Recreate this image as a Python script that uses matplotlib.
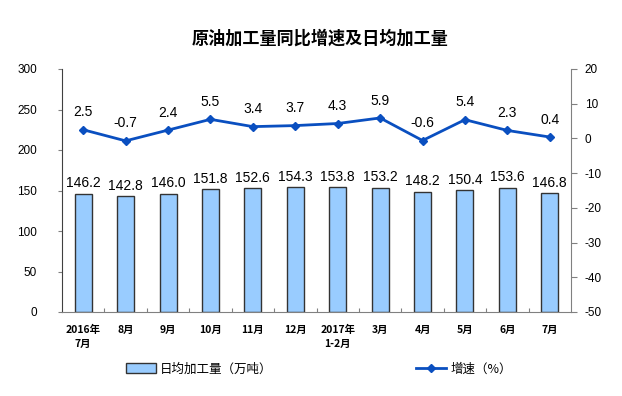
import matplotlib
matplotlib.use("Agg")
import matplotlib.pyplot as plt
from matplotlib.lines import Line2D
from matplotlib.patches import Patch

plt.rcParams['font.family'] = ['Noto Sans CJK SC', 'DejaVu Sans']
plt.rcParams['axes.unicode_minus'] = False

categories = ["2016年\n7月", "8月", "9月", "10月", "11月", "12月", "2017年\n1-2月",
              "3月", "4月", "5月", "6月", "7月"]
daily_output = [146.2, 142.8, 146.0, 151.8, 152.6, 154.3, 153.8, 153.2, 148.2, 150.4, 153.6, 146.8]
growth = [2.5, -0.7, 2.4, 5.5, 3.4, 3.7, 4.3, 5.9, -0.6, 5.4, 2.3, 0.4]
left_ticks = [0, 50, 100, 150, 200, 250, 300]
right_ticks = [-50, -40, -30, -20, -10, 0, 10, 20]

bar_color = "#99CCFF"
line_color = "#0A4FC0"
axis_color = "#808080"
num_font = ["Liberation Sans", "DejaVu Sans"]

fig = plt.figure(figsize=(6.22, 3.96), dpi=100)
ax = fig.add_axes([62/622, 1-312/396, (571-62)/622, (312-69)/396])
x = list(range(len(categories)))

ax.bar(x, daily_output, width=0.4, color=bar_color, edgecolor="#333333", linewidth=1.0, zorder=2)
ax.set_xlim(-0.5, len(categories)-0.5)
ax.set_ylim(0, 300)
ax.set_yticks(left_ticks)
ax.tick_params(axis='y', labelsize=8.5, length=3, color=axis_color, pad=15)
for i, v in enumerate(daily_output):
    ax.annotate(f"{v:.1f}", (i, v), xytext=(0, 2.5), textcoords="offset points",
                ha="center", va="bottom", fontsize=10, family=num_font)

ax.set_xticks([i + 0.5 for i in x[:-1]], minor=False)
ax.set_xticklabels([])
ax.tick_params(axis='x', direction='in', length=3, color=axis_color)
for i, c in enumerate(categories):
    ax.text(i, -16, c, ha="center", va="top", fontsize=7.5, fontweight="bold",
            transform=ax.transData, linespacing=1.45)

ax.spines["top"].set_visible(False)
ax.spines["left"].set_color("#404040")
ax.spines["bottom"].set_color(axis_color)
ax.spines["right"].set_visible(False)

ax2 = ax.twinx()
ax2.plot(x, growth, color=line_color, marker="D", markersize=4.5, linewidth=2, zorder=3)
ax2.set_ylim(-50, 20)
ax2.set_yticks(right_ticks)
ax2.tick_params(axis='y', labelsize=8.5, length=4, color=axis_color, pad=6)
for s in ["top", "left", "bottom"]:
    ax2.spines[s].set_visible(False)
ax2.spines["right"].set_color(axis_color)
for i, v in enumerate(growth):
    ax2.annotate(f"{v:.1f}", (i, v), xytext=(0, 7.5), textcoords="offset points",
                 ha="center", va="bottom", fontsize=10, family=num_font)

for a in (ax, ax2):
    for lab in a.get_yticklabels():
        lab.set_family(num_font)

fig.text(320/622, 1-39/396, "原油加工量同比增速及日均加工量", ha="center", va="center",
         fontsize=12.3, fontweight="bold")

handles = [Patch(facecolor=bar_color, edgecolor="#333333", linewidth=1.0),
           Line2D([0], [0], color=line_color, marker="D", markersize=4.5, linewidth=2)]
labels = ["日均加工量（万吨）", "增速（%）"]
fig.legend(handles, labels, loc="center", bbox_to_anchor=(319/622, 1-369/396), ncol=2,
           frameon=False, fontsize=9, columnspacing=11.5, handlelength=2.4, handleheight=0.8,
           handletextpad=0.3)

fig.savefig("out.png", dpi=100)
